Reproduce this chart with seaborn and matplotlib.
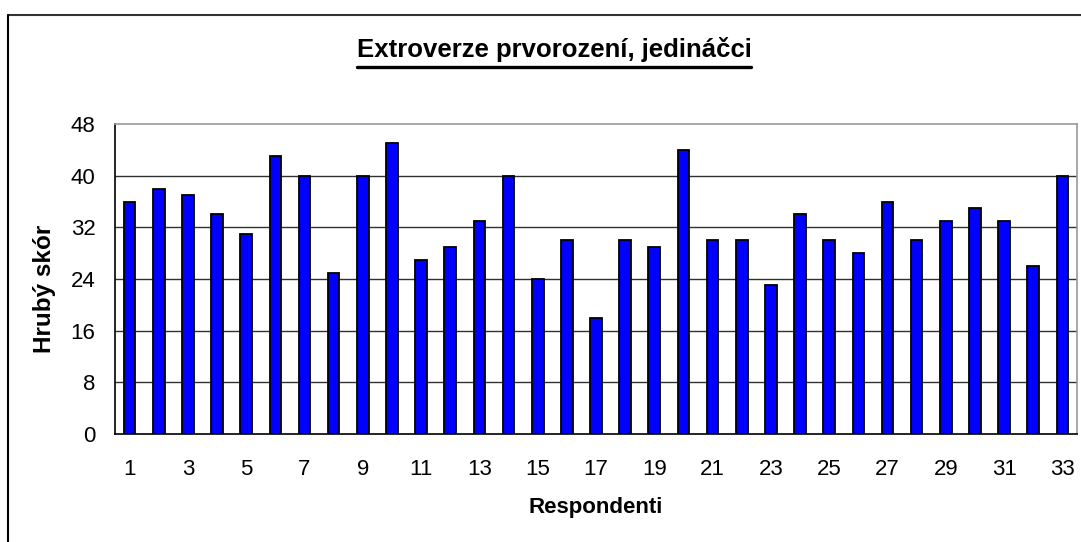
import matplotlib
matplotlib.use('Agg')

import numpy as np
import pandas as pd
import matplotlib.pyplot as plt
from matplotlib.lines import Line2D
import seaborn as sns

# data
respondents = list(range(1, 34))
scores = [36, 38, 37, 34, 31, 43, 40, 25, 40, 45, 27, 29, 33, 40, 24, 30, 18,
          30, 29, 44, 30, 30, 23, 34, 30, 28, 36, 30, 33, 35, 33, 26, 40]
y_ticks = [0, 8, 16, 24, 32, 40, 48]

sns.set_style('white')
plt.rcParams['font.family'] = ['Liberation Sans', 'DejaVu Sans']
plt.rcParams.update({'text.color': 'black', 'axes.labelcolor': 'black',
                     'xtick.color': 'black', 'ytick.color': 'black'})

df = pd.DataFrame({'respondent': respondents, 'score': scores})

fig = plt.figure(figsize=(10.81, 5.42), dpi=100)
ax = fig.add_axes([115 / 1081, 1 - 434 / 542, 962 / 1081, 310 / 542])

sns.barplot(data=df, x='respondent', y='score', ax=ax, width=0.4,
            color='#0000FF', saturation=1, edgecolor='black', linewidth=1.3)

ax.set_ylim(0, 48)
ax.set_xlim(-0.5, len(respondents) - 0.5)
ax.set_yticks(y_ticks)
ax.set_yticklabels([str(v) for v in y_ticks], fontsize=16)
for v in y_ticks[1:-1]:
    ax.axhline(v, color='#303030', linewidth=1, zorder=0)

# category boundaries carry the tick marks, odd respondents get labels
ax.set_xticks(np.arange(-0.5, len(respondents)))
ax.set_xticklabels([])
ax.set_xticks(np.arange(0, len(respondents), 2), minor=True)
ax.set_xticklabels([str(r) for r in respondents[::2]], minor=True, fontsize=16)
ax.tick_params(axis='x', which='major', direction='out', length=7, width=1, color='black')
ax.tick_params(axis='x', which='minor', length=0, pad=18, labelcolor='black')
ax.tick_params(axis='y', direction='out', length=8, width=1, color='black', pad=6,
               labelcolor='black')

ax.spines['left'].set_color('black')
ax.spines['bottom'].set_color('black')
ax.spines['top'].set_color('#999999')
ax.spines['right'].set_color('#999999')
for s in ax.spines.values():
    s.set_linewidth(1.2)

ax.set_xlabel('Respondenti', fontsize=16, fontweight='bold', color='black')
ax.xaxis.set_label_coords(0.5, (434 - 508) / 310)
ax.xaxis.label.set_va('center')
ax.set_ylabel('Hrubý skór', fontsize=17.5, fontweight='bold', color='black')
ax.yaxis.set_label_coords((45 - 115) / 962, (434 - 289) / 310)
ax.yaxis.label.set_va('center')

title = fig.text(554 / 1081, 1 - 50 / 542, 'Extroverze prvorození, jedináčci',
                 ha='center', va='center', fontsize=18.5, fontweight='bold', color='black')

# underline the title
fig.canvas.draw()
bb = title.get_window_extent(renderer=fig.canvas.get_renderer())
uy = 1 - 67 / 542
fig.add_artist(Line2D([bb.x0 / 1081, bb.x1 / 1081], [uy, uy], color='black', linewidth=2.4))

# chart area border (top and left edges visible)
fig.add_artist(Line2D([8 / 1081, 1.0], [1 - 14.5 / 542, 1 - 14.5 / 542], color='#333333', linewidth=1.5))
fig.add_artist(Line2D([8 / 1081, 8 / 1081], [0, 1 - 14.5 / 542], color='black', linewidth=1.5))

fig.savefig('out.png', dpi=100)
plt.close(fig)
